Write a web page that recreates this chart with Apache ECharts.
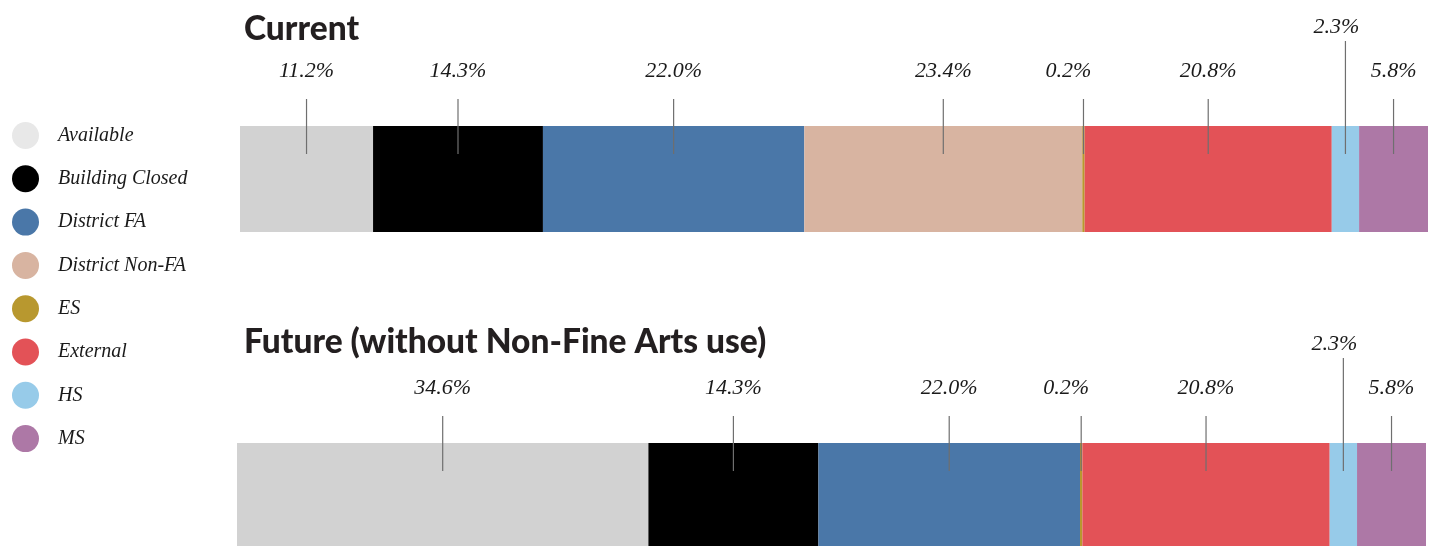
<!DOCTYPE html>
<html>
<head>
<meta charset="utf-8">
<script src="https://cdn.jsdelivr.net/npm/echarts@6/dist/echarts.min.js"></script>
<style>
  html, body { margin: 0; padding: 0; background: #fff; }
  #chart { width: 1440px; height: 546px; }
</style>
</head>
<body>
<div id="chart"></div>
<script>
// 区分名
const categories = ['Available', 'Building Closed', 'District FA', 'District Non-FA', 'ES', 'External', 'HS', 'MS'];

// 区分ごとの色
const colors = ['#d2d2d2', '#000000', '#4a77a8', '#d8b4a1', '#b8982f', '#e35257', '#97cbe9', '#ad78a6'];

// 現在の割合（%）
const currentValues = [11.2, 14.3, 22.0, 23.4, 0.2, 20.8, 2.3, 5.8];

// 将来の割合（%）
const futureValues = [34.6, 14.3, 22.0, 0, 0.2, 20.8, 2.3, 5.8];

// 各パネルの見出し
const panelTitles = ['Current', 'Future (without Non-Fine Arts use)'];

const chart = echarts.init(document.getElementById('chart'));

const labelFont = 'italic 22px "Liberation Serif", serif';

// 各区分の中心位置を積み上げから求める
function midPoints(values) {
  let acc = 0;
  const out = [];
  values.forEach((v, i) => {
    if (v > 0) out.push([acc + v / 2, 0, i, v]);
    acc += v;
  });
  return out;
}

// 引き出し線とラベルを描く
function renderLabel(params, api) {
  const idx = api.value(2);
  const v = api.value(3);
  const name = categories[idx];
  const pt = api.coord([api.value(0), 0]);
  const bandH = api.size([0, 1])[1];
  const top = pt[1] - bandH / 2;
  const raised = name === 'HS';
  const lineTop = raised ? top - 85 : top - 27;
  const textY = raised ? top - 99 : top - 55;
  let shift = 0;
  if (name === 'ES') shift = -15;
  if (name === 'HS') shift = -9;
  return {
    type: 'group',
    children: [
      {
        type: 'line',
        shape: { x1: pt[0], y1: lineTop, x2: pt[0], y2: top + 28 },
        style: { stroke: '#6f6f6f', lineWidth: 1.2 }
      },
      {
        type: 'text',
        x: pt[0] + shift,
        y: textY,
        style: {
          text: v.toFixed(1) + '%',
          font: labelFont,
          fill: '#1a1a1a',
          align: 'center',
          verticalAlign: 'middle'
        }
      }
    ]
  };
}

const series = [];
[currentValues, futureValues].forEach((values, g) => {
  categories.forEach((name, i) => {
    series.push({
      name: name,
      type: 'bar',
      stack: 'total' + g,
      xAxisIndex: g,
      yAxisIndex: g,
      barWidth: '100%',
      itemStyle: { color: colors[i] },
      emphasis: { disabled: true },
      data: [values[i]]
    });
  });
  series.push({
    type: 'custom',
    xAxisIndex: g,
    yAxisIndex: g,
    renderItem: renderLabel,
    clip: false,
    z: 10,
    silent: true,
    data: midPoints(values)
  });
});

const option = {
  animation: false,
  title: [
    {
      text: panelTitles[0], left: 239, top: 7,
      textStyle: { fontFamily: 'Lato', fontWeight: 900, fontSize: 33.5, color: '#231f20' }
    },
    {
      text: panelTitles[1], left: 239, top: 320,
      textStyle: { fontFamily: 'Lato', fontWeight: 900, fontSize: 33.5, color: '#231f20' }
    }
  ],
  legend: {
    orient: 'vertical',
    left: 7,
    top: 117,
    icon: 'circle',
    itemWidth: 27,
    itemHeight: 27,
    itemGap: 16.3,
    selectedMode: false,
    data: categories.map((n, i) => i === 0 ? { name: n, itemStyle: { color: '#e8e8e8' } } : { name: n }),
    textStyle: {
      fontFamily: 'Liberation Serif',
      fontStyle: 'italic',
      fontSize: 20,
      color: '#1a1a1a',
      padding: [0, 0, 0, 14]
    }
  },
  grid: [
    { left: 240, right: 12, top: 126, height: 106 },
    { left: 237, right: 14, top: 443, height: 103 }
  ],
  xAxis: [
    { type: 'value', gridIndex: 0, min: 0, max: 100, show: false },
    { type: 'value', gridIndex: 1, min: 0, max: 100, show: false }
  ],
  yAxis: [
    { type: 'category', gridIndex: 0, data: [panelTitles[0]], show: false },
    { type: 'category', gridIndex: 1, data: [panelTitles[1]], show: false }
  ],
  series: series
};

chart.setOption(option);
</script>
</body>
</html>
